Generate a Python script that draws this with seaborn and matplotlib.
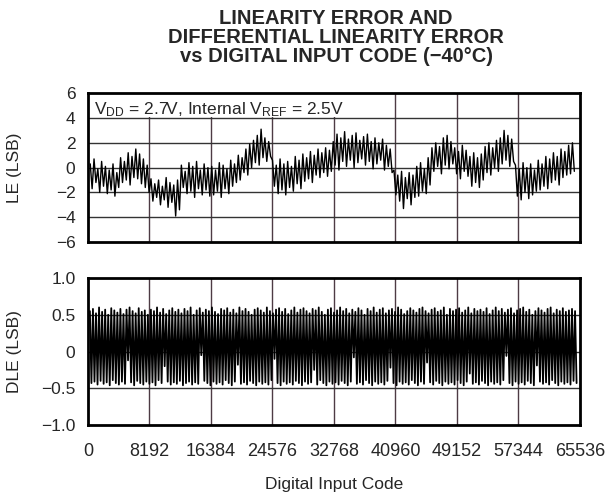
import numpy as np
import pandas as pd
import matplotlib
matplotlib.use('Agg')
import matplotlib.pyplot as plt
from matplotlib.patches import Rectangle
import seaborn as sns

# LE trace (LSB), 32 points per 8192 codes
le_vals = [
    # 0 - 8192
    0.3, -1.7, 0.7, -1.2, -0.1, -2.0, 0.5, -1.5, 0.1, -2.1,
    -0.2, -1.8, 0.3, -2.3, -0.4, -1.6,
    0.8, -1.2, 0.5, -1.0, 1.2, -1.4, 0.9, -0.8,
    1.5, -0.9, 1.1, -1.3, 0.7, -1.6, 0.2, -2.0,
    # 8192 - 16384
    -0.9, -2.7, -1.3, -2.4, -1.0, -3.0, -1.5, -2.6, -0.8, -3.2, -1.2, -2.8,
    -1.4, -3.9, -1.0, -3.4,
    0.2, -1.6, -0.3, -2.1, 0.4, -1.9, 0.1, -2.4, 0.5, -1.7, -0.2, -2.2, 0.3, -1.8, 0.0, -2.3,
    # 16384 - 24576
    0.1, -2.2, -0.2, -1.9, 0.4, -2.4, 0.2, -1.7, -0.1, -2.1,
    0.6, -1.5, 0.3, -1.2, 1.0, -1.0, 0.8, -0.4, 1.5, -0.6, 1.9, 0.0,
    2.2, 0.4, 2.6, 0.2, 3.1, 0.8, 2.4, 0.5, 2.1, 0.9,
    # 24576 - 32768
    0.6, -1.5, 0.2, -2.1, 0.7, -1.8, 0.3, -2.2, 0.5, -1.6, 0.1, -1.9,
    0.9, -1.3, 0.6, -1.7, 1.1, -1.1, 0.8, -0.9, 1.3, -1.2, 1.0, -0.6,
    1.5, -0.8, 1.2, -0.4, 1.6, -0.7, 1.4, -0.3,
    # 32768 - 40960
    2.1, 0.2, 2.7, -0.2, 2.4, 0.5, 2.9, 0.1, 2.3, 0.6, 2.6, 0.0, 2.8, 0.4, 2.2, 0.7,
    2.5, 0.2, 2.7, 0.5, 2.1, -0.1, 2.4, 0.3, 2.0, 0.6, 2.3, -0.2, 1.8, 0.1, 1.5, -0.4,
    # 40960 - 49152
    -0.2, -2.2, -0.6, -2.7, -0.3, -3.3, -0.8, -2.5, -0.4, -3.0, -0.6, -2.4,
    0.1, -2.3, 0.4, -1.9, -0.1, -2.1, 0.8, -1.4,
    1.6, -0.3, 2.0, 0.1, 1.7, -0.5, 2.4, 0.2, 2.6, -0.1, 2.1, 0.3,
    # 49152 - 57344
    1.6, -0.5, 1.3, -0.9, 1.8, -0.3, 1.4, -0.7,
    0.9, -1.5, 1.2, -1.2, 0.8, -1.6, 1.1, -1.0,
    1.7, -0.4, 2.0, -0.6, 1.6, 0.0, 2.2, -0.3,
    2.4, 0.3, 3.0, 0.6, 2.6, 0.1, 2.3, 0.5,
    # 57344 - 65536
    0.2, -2.3, -0.1, -2.6, 0.4, -2.0, 0.0, -2.5, 0.3, -2.2, -0.2, -1.9,
    0.6, -1.8, 0.3, -1.5, 0.9, -1.7, 0.7, -1.2, 1.2, -1.0, 0.9, -1.4,
    1.5, -0.8, 1.3, -0.6, 1.8, -0.5, 2.0, -0.3,
]

# DLE trace: upper and lower turning points (LSB)
dle_hi = [
    0.55, 0.58, 0.52, 0.60, 0.54, 0.57, 0.50, 0.59, 0.56, 0.53,
    0.58, 0.51, 0.57, 0.60, 0.55, 0.52, 0.59, 0.54, 0.56, 0.50,
    0.57, 0.55, 0.60, 0.53, 0.58, 0.51, 0.56, 0.59, 0.54, 0.57,
    0.52, 0.58, 0.55, 0.60, 0.50, 0.56, 0.59, 0.53, 0.57, 0.55,
    0.60, 0.54, 0.51, 0.58, 0.56, 0.59, 0.53, 0.57, 0.52, 0.60,
    0.55, 0.58, 0.54, 0.50, 0.57, 0.59, 0.56, 0.53, 0.60, 0.55,
    0.52, 0.57, 0.59, 0.54, 0.58, 0.51, 0.56, 0.60, 0.53, 0.57,
    0.59, 0.55, 0.52, 0.58, 0.56, 0.60, 0.54, 0.50, 0.57, 0.59,
    0.53, 0.56, 0.60, 0.55, 0.58, 0.52, 0.57, 0.54, 0.59, 0.56,
    0.50, 0.58, 0.55, 0.60, 0.53, 0.57, 0.59, 0.52, 0.56, 0.58,
    0.54, 0.60, 0.57, 0.51, 0.55, 0.59, 0.56, 0.53, 0.58, 0.60,
    0.55, 0.52, 0.57, 0.59, 0.54, 0.56, 0.60, 0.50, 0.58, 0.55,
    0.57, 0.59, 0.53, 0.56, 0.60, 0.52, 0.58, 0.55, 0.57, 0.54,
    0.59, 0.51, 0.56, 0.60, 0.55, 0.58, 0.53, 0.57, 0.59, 0.52,
    0.56, 0.58, 0.60, 0.54, 0.57, 0.50, 0.55, 0.59, 0.56, 0.53,
    0.58, 0.60, 0.52, 0.57, 0.55, 0.59, 0.54, 0.56, 0.58, 0.55,
]
dle_lo = [
    -0.43, -0.41, -0.45, -0.40, -0.44, -0.42, -0.46, -0.39, -0.43, -0.45,
    -0.41, -0.44, -0.12, -0.42, -0.46, -0.40, -0.43, -0.45, -0.41, -0.44,
    -0.42, -0.46, -0.39, -0.43, -0.20, -0.41, -0.45, -0.42, -0.44, -0.40,
    -0.46, -0.43, -0.41, -0.45, -0.42, -0.44, -0.05, -0.40, -0.43, -0.46,
    -0.41, -0.44, -0.42, -0.45, -0.39, -0.43, -0.46, -0.41, -0.18, -0.44,
    -0.42, -0.45, -0.40, -0.43, -0.46, -0.41, -0.44, -0.42, -0.45, -0.39,
    -0.10, -0.43, -0.46, -0.41, -0.44, -0.42, -0.45, -0.40, -0.43, -0.46,
    -0.41, -0.44, -0.42, -0.25, -0.45, -0.39, -0.43, -0.46, -0.41, -0.44,
    -0.42, -0.45, -0.40, -0.43, -0.46, -0.41, -0.08, -0.44, -0.42, -0.45,
    -0.39, -0.43, -0.46, -0.41, -0.44, -0.42, -0.45, -0.40, -0.22, -0.43,
    -0.46, -0.41, -0.44, -0.42, -0.45, -0.39, -0.43, -0.46, -0.41, -0.44,
    -0.15, -0.42, -0.45, -0.40, -0.43, -0.46, -0.41, -0.44, -0.42, -0.45,
    -0.39, -0.43, -0.46, -0.41, -0.30, -0.44, -0.42, -0.45, -0.40, -0.43,
    -0.46, -0.41, -0.44, -0.42, -0.45, -0.39, -0.06, -0.43, -0.46, -0.41,
    -0.44, -0.42, -0.45, -0.40, -0.43, -0.46, -0.19, -0.41, -0.44, -0.42,
    -0.45, -0.39, -0.43, -0.46, -0.41, -0.44, -0.42, -0.45, -0.40, -0.43,
]

x_ticks = [0, 8192, 16384, 24576, 32768, 40960, 49152, 57344, 65536]
le_ticks = [6, 4, 2, 0, -2, -4, -6]
dle_ticks = [1.0, 0.5, 0, -0.5, -1.0]
dle_tick_labels = ['1.0', '0.5', '0', '\u22120.5', '\u22121.0']

title = 'LINEARITY ERROR AND\nDIFFERENTIAL LINEARITY ERROR\nvs DIGITAL INPUT CODE (\u221240\u00b0C)'

sns.set_style('white')
plt.rcParams['font.family'] = ['Liberation Sans', 'DejaVu Sans']
plt.rcParams['mathtext.fontset'] = 'custom'
plt.rcParams['mathtext.rm'] = 'Liberation Sans'
plt.rcParams['mathtext.it'] = 'Liberation Sans'

df_le = pd.DataFrame({'code': np.linspace(300, 64800, len(le_vals)), 'LE': le_vals})
dle_vals = np.column_stack([dle_hi, dle_lo]).ravel()
df_dle = pd.DataFrame({'code': np.linspace(256, 65100, len(dle_vals)), 'DLE': dle_vals})

fig = plt.figure(figsize=(6.08, 4.93), dpi=100)
ax1 = fig.add_axes([0.1447, 0.509, 0.809, 0.302])
ax2 = fig.add_axes([0.1447, 0.138, 0.809, 0.298])

vcol = '#4d3b44'
hcol = '#333333'

for ax, ticks in ((ax1, le_ticks), (ax2, dle_ticks)):
    ax.set_xlim(0, 65536)
    ax.set_ylim(min(ticks), max(ticks))
    for xv in x_ticks[1:-1]:
        ax.axvline(xv, color=vcol, lw=1.0, zorder=1)
    for yv in ticks[1:-1]:
        ax.axhline(yv, color=hcol, lw=1.0, zorder=1)
    for s in ax.spines.values():
        s.set_linewidth(2.0)
        s.set_color('black')
    ax.tick_params(length=0, labelsize=12.5)
    ax.set_yticks(ticks)

sns.lineplot(data=df_le, x='code', y='LE', ax=ax1, color='black', lw=1.0,
             estimator=None, sort=False, zorder=3)
sns.lineplot(data=df_dle, x='code', y='DLE', ax=ax2, color='black', lw=1.3,
             estimator=None, sort=False, zorder=3)

# white band behind the condition text (hides the grid there)
ax1.add_patch(Rectangle((0, 4.1), 33300, 1.9, facecolor='white', edgecolor='none', zorder=2))
ax1.text(0.012, 0.955, r'V$_{\rm DD}$ = 2.7V, Internal V$_{\rm REF}$ = 2.5V',
         transform=ax1.transAxes, fontsize=12.5, va='top', ha='left', zorder=4)

ax1.set_xticks(x_ticks)
ax1.set_xticklabels([])
ax1.set_xlabel('')
ax1.set_yticklabels([str(t).replace('-', '\u2212') for t in le_ticks])
ax1.tick_params(axis='y', pad=9)
ax1.set_ylabel('LE (LSB)', fontsize=12.5)
ax1.yaxis.set_label_coords(-0.134, 0.5)

ax2.set_xticks(x_ticks)
ax2.set_xticklabels([str(t) for t in x_ticks])
ax2.set_yticklabels(dle_tick_labels)
ax2.tick_params(axis='y', pad=9)
ax2.tick_params(axis='x', pad=13, labelsize=13)
ax2.set_ylabel('DLE (LSB)', fontsize=12.5)
ax2.yaxis.set_label_coords(-0.134, 0.5)
ax2.set_xlabel('Digital Input Code', fontsize=12.5, labelpad=12)

fig.text(0.553, 0.982, title, ha='center', va='top', fontsize=14.5,
         fontweight='bold', linespacing=1.0)

fig.savefig('out.png', dpi=100)
